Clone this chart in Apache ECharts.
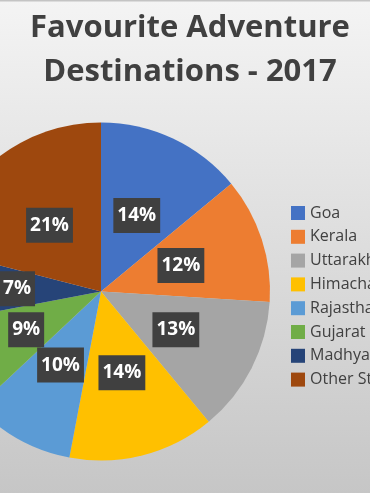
<!DOCTYPE html>
<html>
<head>
<meta charset="utf-8">
<script src="https://cdn.jsdelivr.net/npm/echarts@6/dist/echarts.min.js"></script>
<style>
html,body{margin:0;padding:0;}
#chart{width:370px;height:493px;}
</style>
</head>
<body>
<div id="chart"></div>
<script>
const categories = ["Goa", "Kerala", "Uttarakhand", "Himachal Pradesh", "Rajasthan", "Gujarat", "Madhya Pradesh", "Other States"];
const shares = [14, 12, 13, 14, 10, 9, 7, 21];
const colors = ["#4472C4", "#ED7D31", "#A5A5A5", "#FFC000", "#5B9BD5", "#70AD47", "#264478", "#9E480E"];
const titleText = "Favourite Adventure\nDestinations - 2017";

const pieData = categories.map((c, i) => ({ name: c, value: shares[i] }));

const chart = echarts.init(document.getElementById('chart'));
chart.setOption({
  animation: false,
  backgroundColor: {
    type: 'linear', x: 0, y: 0, x2: 0, y2: 1,
    colorStops: [{offset: 0, color: '#f4f4f4'}, {offset: 1, color: '#c6c6c6'}]
  },
  color: colors,
  graphic: [{
    type: 'rect', left: 0, top: 0, silent: true,
    shape: { width: 370, height: 1.5 },
    style: { fill: '#c4c4c4' }
  }],
  title: {
    text: titleText,
    left: 185,
    top: 1,
    textAlign: 'center',
    textStyle: {
      fontFamily: 'Open Sans',
      fontWeight: 'bold',
      fontSize: 31,
      lineHeight: 44,
      color: '#404040'
    }
  },
  legend: {
    orient: 'vertical',
    left: 291,
    top: 205,
    padding: 0,
    itemWidth: 14,
    itemHeight: 14,
    itemGap: 7.8,
    icon: 'rect',
    data: categories,
    textStyle: { fontFamily: 'Open Sans', fontSize: 16, color: '#404040' }
  },
  series: [{
    type: 'pie',
    center: [101, 291.5],
    radius: 169,
    startAngle: 90,
    clockwise: true,
    silent: true,
    label: { show: false },
    labelLine: { show: false },
    itemStyle: { borderWidth: 0 },
    data: pieData
  }, {
    type: 'pie',
    center: [101, 291.5],
    radius: 162,
    startAngle: 90,
    clockwise: true,
    silent: true,
    itemStyle: { color: 'rgba(0,0,0,0)', borderWidth: 0 },
    label: {
      position: 'inside',
      formatter: p => p.value + '%',
      fontFamily: 'Open Sans',
      fontWeight: 'bold',
      fontSize: 19,
      color: '#ffffff',
      backgroundColor: '#404040',
      padding: [8, 4, 8, 4]
    },
    labelLine: { show: false },
    data: pieData
  }]
});
</script>
</body>
</html>
